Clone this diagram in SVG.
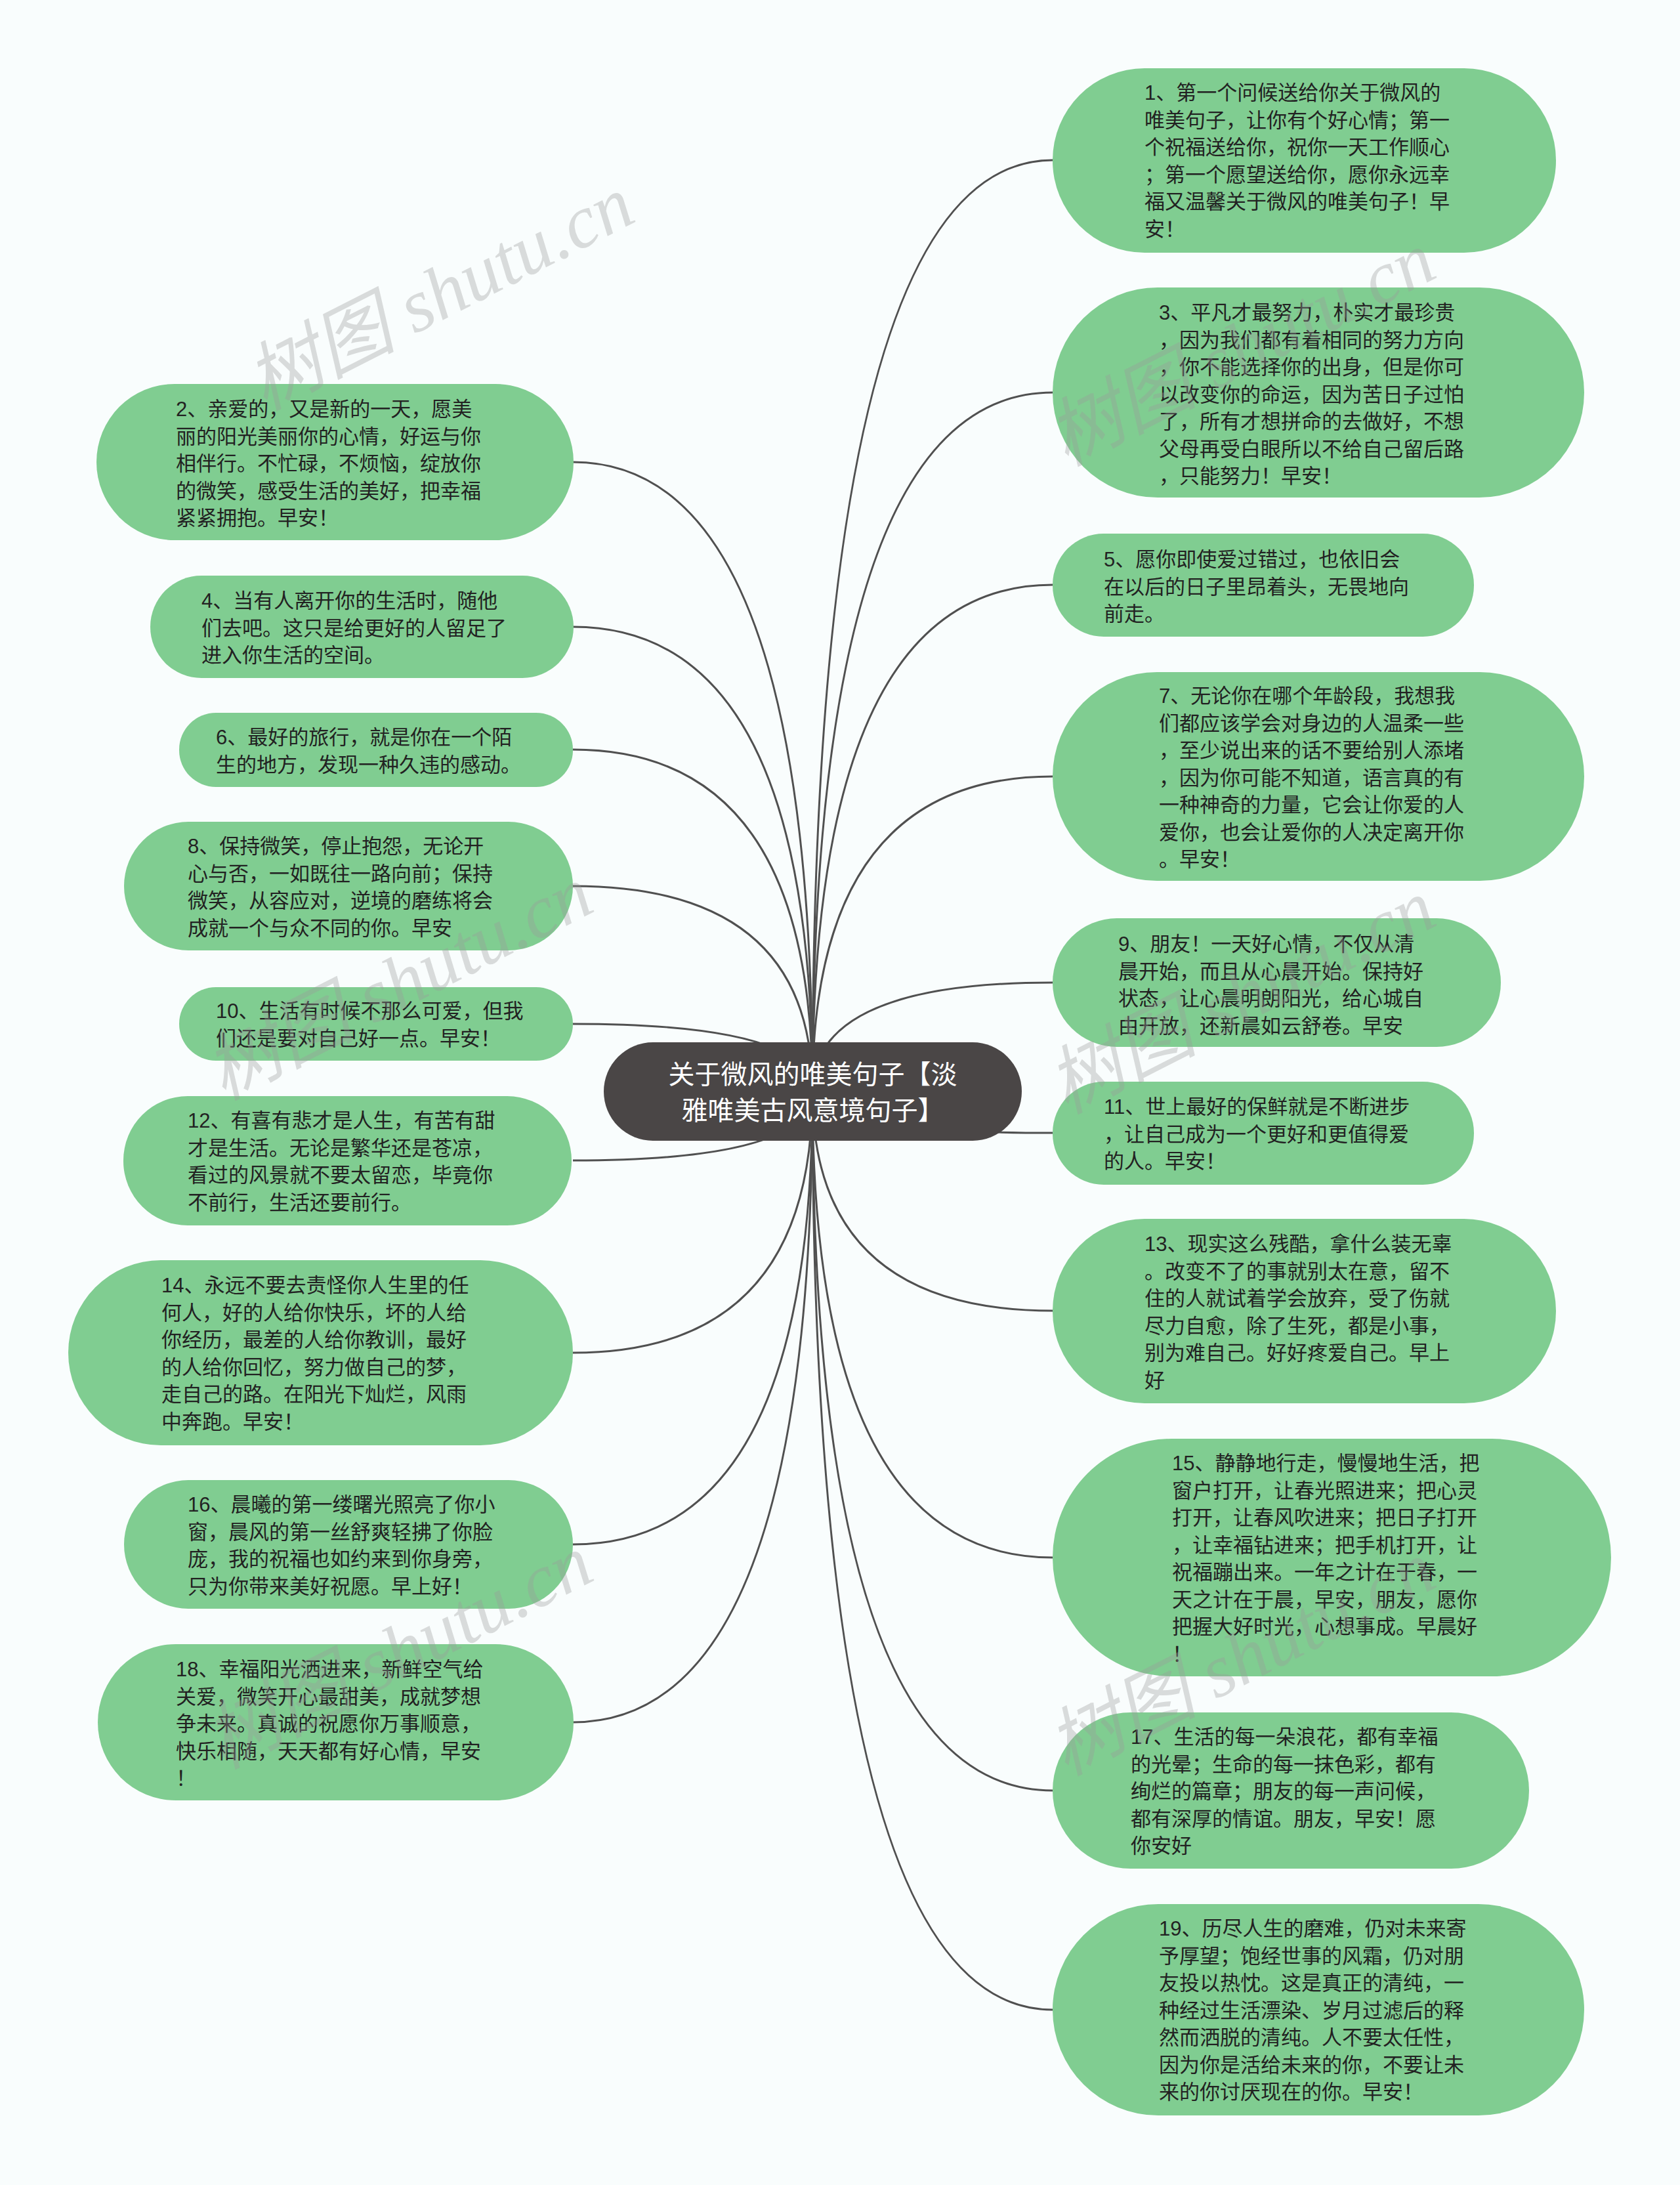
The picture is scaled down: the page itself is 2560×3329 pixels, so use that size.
<svg xmlns="http://www.w3.org/2000/svg" width="2560" height="3329" viewBox="0 0 2560 3329">
<style>
.bg{fill:#f9fdfd}
.n{fill:#80cd91}
.c{fill:#4a4646}
.t{font-family:"Liberation Sans","Noto Sans CJK SC",sans-serif;font-size:31px;fill:#222}
.ct{font-family:"Liberation Sans","Noto Sans CJK SC",sans-serif;font-size:40px;fill:#ffffff;text-anchor:middle}
.e{fill:none;stroke:#505050;stroke-width:3}
.wm{font-family:"Liberation Serif","Noto Sans CJK SC",serif;font-size:114px;font-style:italic;fill:#9a9a9a;fill-opacity:0.35}
</style>
<rect class="bg" x="0" y="0" width="2560" height="3329"/>
<g id="connectors">
<path class="e" d="M1238 1663 Q1238 244 1604 244"/>
<path class="e" d="M1238 1663 Q1238 598 1604 598"/>
<path class="e" d="M1238 1663 Q1238 891 1604 891"/>
<path class="e" d="M1238 1663 Q1238 1183 1604 1183"/>
<path class="e" d="M1238 1663 Q1238 1497 1604 1497"/>
<path class="e" d="M1238 1663 Q1238 1726 1604 1726"/>
<path class="e" d="M1238 1663 Q1238 1997 1604 1997"/>
<path class="e" d="M1238 1663 Q1238 2373 1604 2373"/>
<path class="e" d="M1238 1663 Q1238 2728 1604 2728"/>
<path class="e" d="M1238 1663 Q1238 3062 1604 3062"/>
<path class="e" d="M1238 1663 Q1238 704 873 704"/>
<path class="e" d="M1238 1663 Q1238 955 873 955"/>
<path class="e" d="M1238 1663 Q1238 1142 873 1142"/>
<path class="e" d="M1238 1663 Q1238 1350 873 1350"/>
<path class="e" d="M1238 1663 Q1238 1560 873 1560"/>
<path class="e" d="M1238 1663 Q1238 1768 873 1768"/>
<path class="e" d="M1238 1663 Q1238 2061 873 2061"/>
<path class="e" d="M1238 1663 Q1238 2353 873 2353"/>
<path class="e" d="M1238 1663 Q1238 2624 873 2624"/>
</g>
<g id="center">
<rect class="c" x="920" y="1588" width="637" height="150" rx="75"/>
<text class="ct" x="1238.5" y="1651">关于微风的唯美句子【淡</text>
<text class="ct" x="1238.5" y="1706">雅唯美古风意境句子】</text>
</g>
<g id="n1">
<rect class="n" x="1604" y="104" width="767" height="281" rx="140"/>
<text class="t" x="1744" y="152">1、第一个问候送给你关于微风的<tspan x="1744" dy="41.5">唯美句子，让你有个好心情；第一</tspan><tspan x="1744" dy="41.5">个祝福送给你，祝你一天工作顺心</tspan><tspan x="1744" dy="41.5">；第一个愿望送给你，愿你永远幸</tspan><tspan x="1744" dy="41.5">福又温馨关于微风的唯美句子！早</tspan><tspan x="1744" dy="41.5">安！</tspan></text>
</g>
<g id="n3">
<rect class="n" x="1604" y="438" width="810" height="320" rx="160"/>
<text class="t" x="1766" y="487">3、平凡才最努力，朴实才最珍贵<tspan x="1766" dy="41.5">，因为我们都有着相同的努力方向</tspan><tspan x="1766" dy="41.5">，你不能选择你的出身，但是你可</tspan><tspan x="1766" dy="41.5">以改变你的命运，因为苦日子过怕</tspan><tspan x="1766" dy="41.5">了，所有才想拼命的去做好，不想</tspan><tspan x="1766" dy="41.5">父母再受白眼所以不给自己留后路</tspan><tspan x="1766" dy="41.5">，只能努力！早安！</tspan></text>
</g>
<g id="n5">
<rect class="n" x="1604" y="813" width="642" height="157" rx="78"/>
<text class="t" x="1682" y="863">5、愿你即使爱过错过，也依旧会<tspan x="1682" dy="41.5">在以后的日子里昂着头，无畏地向</tspan><tspan x="1682" dy="41.5">前走。</tspan></text>
</g>
<g id="n7">
<rect class="n" x="1604" y="1024" width="810" height="318" rx="159"/>
<text class="t" x="1766" y="1071">7、无论你在哪个年龄段，我想我<tspan x="1766" dy="41.5">们都应该学会对身边的人温柔一些</tspan><tspan x="1766" dy="41.5">，至少说出来的话不要给别人添堵</tspan><tspan x="1766" dy="41.5">，因为你可能不知道，语言真的有</tspan><tspan x="1766" dy="41.5">一种神奇的力量，它会让你爱的人</tspan><tspan x="1766" dy="41.5">爱你，也会让爱你的人决定离开你</tspan><tspan x="1766" dy="41.5">。早安！</tspan></text>
</g>
<g id="n9">
<rect class="n" x="1604" y="1399" width="683" height="196" rx="98"/>
<text class="t" x="1704" y="1449">9、朋友！一天好心情，不仅从清<tspan x="1704" dy="41.5">晨开始，而且从心晨开始。保持好</tspan><tspan x="1704" dy="41.5">状态，让心晨明朗阳光，给心城自</tspan><tspan x="1704" dy="41.5">由开放，还新晨如云舒卷。早安</tspan></text>
</g>
<g id="n11">
<rect class="n" x="1604" y="1648" width="642" height="157" rx="78"/>
<text class="t" x="1682" y="1697">11、世上最好的保鲜就是不断进步<tspan x="1682" dy="41.5">，让自己成为一个更好和更值得爱</tspan><tspan x="1682" dy="41.5">的人。早安！</tspan></text>
</g>
<g id="n13">
<rect class="n" x="1604" y="1857" width="767" height="281" rx="140"/>
<text class="t" x="1744" y="1906">13、现实这么残酷，拿什么装无辜<tspan x="1744" dy="41.5">。改变不了的事就别太在意，留不</tspan><tspan x="1744" dy="41.5">住的人就试着学会放弃，受了伤就</tspan><tspan x="1744" dy="41.5">尽力自愈，除了生死，都是小事，</tspan><tspan x="1744" dy="41.5">别为难自己。好好疼爱自己。早上</tspan><tspan x="1744" dy="41.5">好</tspan></text>
</g>
<g id="n15">
<rect class="n" x="1604" y="2192" width="851" height="362" rx="181"/>
<text class="t" x="1786" y="2240">15、静静地行走，慢慢地生活，把<tspan x="1786" dy="41.5">窗户打开，让春光照进来；把心灵</tspan><tspan x="1786" dy="41.5">打开，让春风吹进来；把日子打开</tspan><tspan x="1786" dy="41.5">，让幸福钻进来；把手机打开，让</tspan><tspan x="1786" dy="41.5">祝福蹦出来。一年之计在于春，一</tspan><tspan x="1786" dy="41.5">天之计在于晨，早安，朋友，愿你</tspan><tspan x="1786" dy="41.5">把握大好时光，心想事成。早晨好</tspan><tspan x="1786" dy="41.5">！</tspan></text>
</g>
<g id="n17">
<rect class="n" x="1604" y="2609" width="726" height="238" rx="119"/>
<text class="t" x="1723" y="2657">17、生活的每一朵浪花，都有幸福<tspan x="1723" dy="41.5">的光晕；生命的每一抹色彩，都有</tspan><tspan x="1723" dy="41.5">绚烂的篇章；朋友的每一声问候，</tspan><tspan x="1723" dy="41.5">都有深厚的情谊。朋友，早安！愿</tspan><tspan x="1723" dy="41.5">你安好</tspan></text>
</g>
<g id="n19">
<rect class="n" x="1604" y="2901" width="810" height="322" rx="161"/>
<text class="t" x="1766" y="2949">19、历尽人生的磨难，仍对未来寄<tspan x="1766" dy="41.5">予厚望；饱经世事的风霜，仍对朋</tspan><tspan x="1766" dy="41.5">友投以热忱。这是真正的清纯，一</tspan><tspan x="1766" dy="41.5">种经过生活漂染、岁月过滤后的释</tspan><tspan x="1766" dy="41.5">然而洒脱的清纯。人不要太任性，</tspan><tspan x="1766" dy="41.5">因为你是活给未来的你，不要让未</tspan><tspan x="1766" dy="41.5">来的你讨厌现在的你。早安！</tspan></text>
</g>
<g id="n2">
<rect class="n" x="147" y="585" width="727" height="238" rx="119"/>
<text class="t" x="268" y="634">2、亲爱的，又是新的一天，愿美<tspan x="268" dy="41.5">丽的阳光美丽你的心情，好运与你</tspan><tspan x="268" dy="41.5">相伴行。不忙碌，不烦恼，绽放你</tspan><tspan x="268" dy="41.5">的微笑，感受生活的美好，把幸福</tspan><tspan x="268" dy="41.5">紧紧拥抱。早安！</tspan></text>
</g>
<g id="n4">
<rect class="n" x="229" y="877" width="645" height="156" rx="78"/>
<text class="t" x="307" y="926">4、当有人离开你的生活时，随他<tspan x="307" dy="41.5">们去吧。这只是给更好的人留足了</tspan><tspan x="307" dy="41.5">进入你生活的空间。</tspan></text>
</g>
<g id="n6">
<rect class="n" x="273" y="1086" width="600" height="113" rx="56"/>
<text class="t" x="329" y="1134">6、最好的旅行，就是你在一个陌<tspan x="329" dy="41.5">生的地方，发现一种久违的感动。</tspan></text>
</g>
<g id="n8">
<rect class="n" x="189" y="1252" width="684" height="196" rx="98"/>
<text class="t" x="286" y="1300">8、保持微笑，停止抱怨，无论开<tspan x="286" dy="41.5">心与否，一如既往一路向前；保持</tspan><tspan x="286" dy="41.5">微笑，从容应对，逆境的磨练将会</tspan><tspan x="286" dy="41.5">成就一个与众不同的你。早安</tspan></text>
</g>
<g id="n10">
<rect class="n" x="273" y="1504" width="600" height="112" rx="56"/>
<text class="t" x="329" y="1551">10、生活有时候不那么可爱，但我<tspan x="329" dy="41.5">们还是要对自己好一点。早安！</tspan></text>
</g>
<g id="n12">
<rect class="n" x="188" y="1670" width="683" height="197" rx="98"/>
<text class="t" x="286" y="1718">12、有喜有悲才是人生，有苦有甜<tspan x="286" dy="41.5">才是生活。无论是繁华还是苍凉，</tspan><tspan x="286" dy="41.5">看过的风景就不要太留恋，毕竟你</tspan><tspan x="286" dy="41.5">不前行，生活还要前行。</tspan></text>
</g>
<g id="n14">
<rect class="n" x="104" y="1920" width="769" height="282" rx="141"/>
<text class="t" x="246" y="1969">14、永远不要去责怪你人生里的任<tspan x="246" dy="41.5">何人，好的人给你快乐，坏的人给</tspan><tspan x="246" dy="41.5">你经历，最差的人给你教训，最好</tspan><tspan x="246" dy="41.5">的人给你回忆，努力做自己的梦，</tspan><tspan x="246" dy="41.5">走自己的路。在阳光下灿烂，风雨</tspan><tspan x="246" dy="41.5">中奔跑。早安！</tspan></text>
</g>
<g id="n16">
<rect class="n" x="189" y="2255" width="684" height="196" rx="98"/>
<text class="t" x="286" y="2303">16、晨曦的第一缕曙光照亮了你小<tspan x="286" dy="41.5">窗，晨风的第一丝舒爽轻拂了你脸</tspan><tspan x="286" dy="41.5">庞，我的祝福也如约来到你身旁，</tspan><tspan x="286" dy="41.5">只为你带来美好祝愿。早上好！</tspan></text>
</g>
<g id="n18">
<rect class="n" x="149" y="2505" width="725" height="238" rx="119"/>
<text class="t" x="268" y="2554">18、幸福阳光洒进来，新鲜空气给<tspan x="268" dy="41.5">关爱，微笑开心最甜美，成就梦想</tspan><tspan x="268" dy="41.5">争未来。真诚的祝愿你万事顺意，</tspan><tspan x="268" dy="41.5">快乐相随，天天都有好心情，早安</tspan><tspan x="268" dy="41.5">！</tspan></text>
</g>
<g id="watermarks">
<text class="wm" x="403" y="626" transform="rotate(-27 403 626)">树图 shutu.cn</text>
<text class="wm" x="1624" y="711" transform="rotate(-27 1624 711)">树图 shutu.cn</text>
<text class="wm" x="340" y="1677" transform="rotate(-27 340 1677)">树图 shutu.cn</text>
<text class="wm" x="1624" y="1698" transform="rotate(-27 1624 1698)">树图 shutu.cn</text>
<text class="wm" x="340" y="2696" transform="rotate(-27 340 2696)">树图 shutu.cn</text>
<text class="wm" x="1624" y="2706" transform="rotate(-27 1624 2706)">树图 shutu.cn</text>
</g>
</svg>
